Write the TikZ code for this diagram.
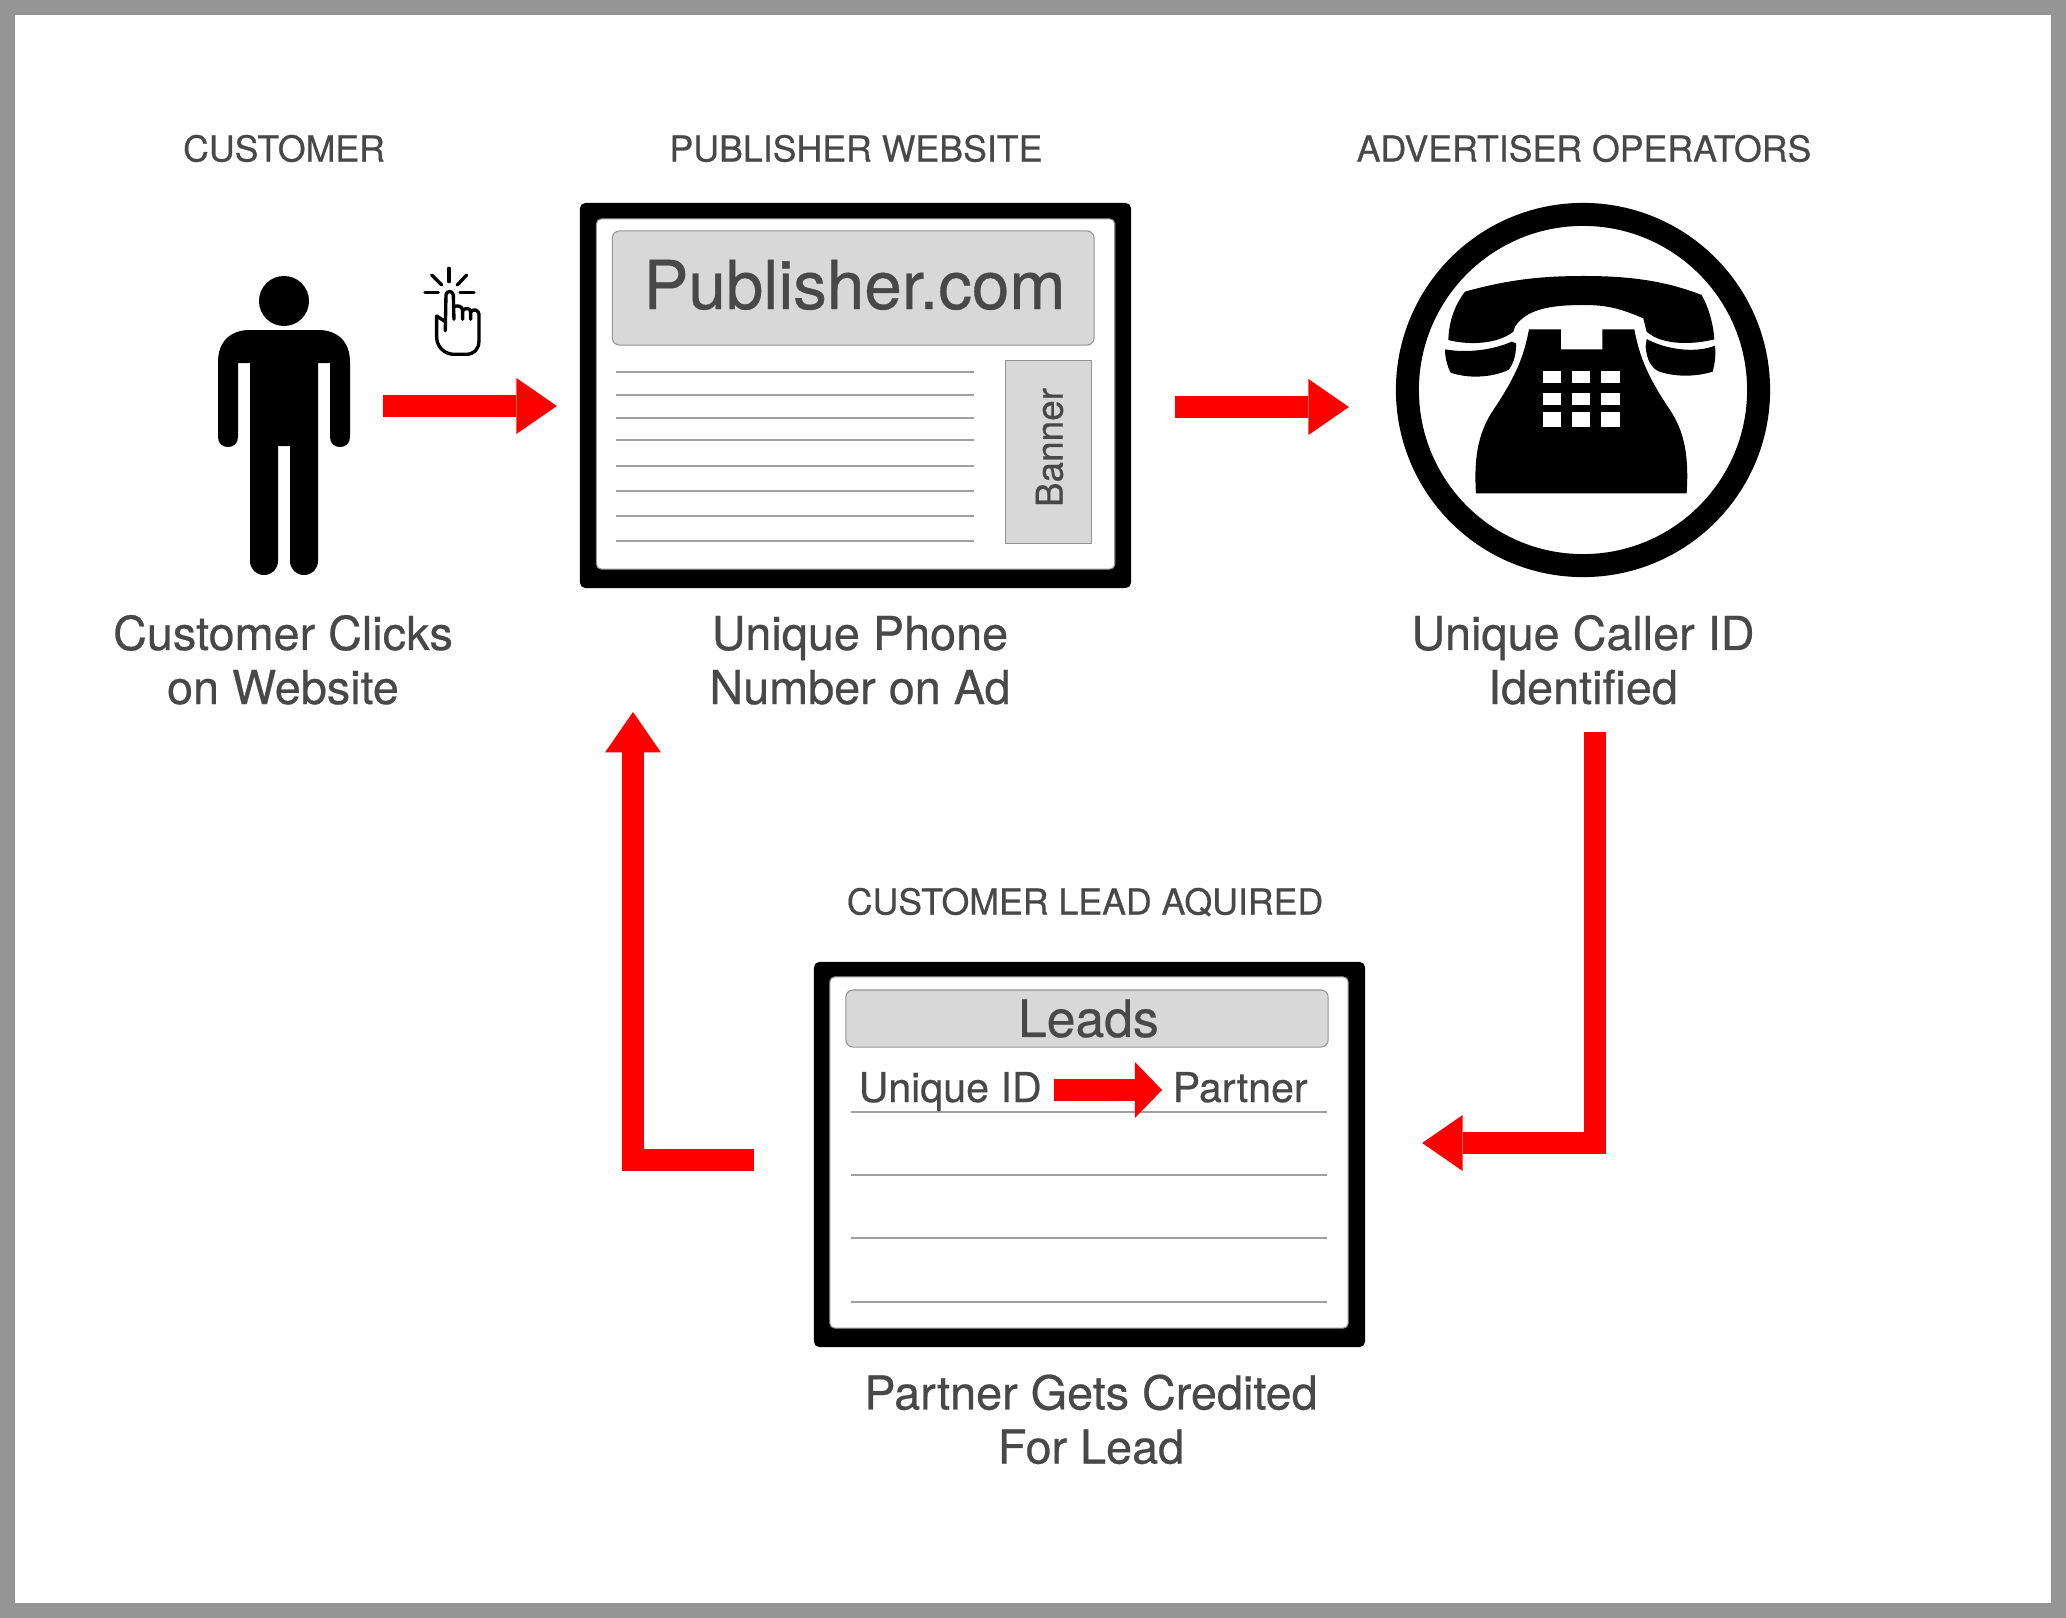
\documentclass[tikz,border=0pt]{standalone}
\usepackage{fontspec}
\setmainfont[FakeBold=0.5]{TeX Gyre Heros}
\usepackage{xcolor}
\usetikzlibrary{arrows.meta, positioning}
\definecolor{myred}{RGB}{255, 0, 0}
\definecolor{mytext}{RGB}{72, 72, 72}
\definecolor{myedge}{RGB}{149, 149, 149}
\definecolor{myrule}{RGB}{160, 160, 160}
\definecolor{mybar}{RGB}{216, 216, 216}
\tikzset{
    headlabel/.style={anchor=base, inner sep=0pt, text=mytext, font=\fontsize{10.15}{12}\selectfont},
    captionlabel/.style={anchor=base, inner sep=0pt, align=center, text=mytext, font=\fontsize{13.3}{15.36}\selectfont},
    blackframe/.style={fill=black, rounded corners=1.6pt, inner sep=0pt, outer sep=0pt},
    whiteframe/.style={fill=white, draw=myedge, line width=0.3pt, rounded corners=1.4pt, inner sep=0pt, outer sep=0pt},
    greybar/.style={fill=mybar, draw=myedge, line width=0.3pt, inner sep=0pt, outer sep=0pt, text=mytext},
    ruleline/.style={draw=myrule, line width=0.35pt},
    flowarrow/.style={draw=myred, line width=6.26pt, -{Triangle[length=11.5pt, width=15.9pt, line width=0pt]}},
    handline/.style={line width=0.95pt, line cap=round, line join=round}
}

\begin{document}
\begin{tikzpicture}[x=0.01cm, y=-0.01cm]
    % page
    \fill[myedge] (0, 0) rectangle (2066, 1618);
    \fill[white] (15, 15) rectangle (2051, 1603);

    % titles
    \node[headlabel] (custhead) at (284, 161.5) {CUSTOMER};
    \node[headlabel] (pubhead) at (856, 161.5) {PUBLISHER WEBSITE};
    \node[headlabel] (advhead) at (1584, 161.5) {ADVERTISER OPERATORS};
    \node[headlabel] (leadhead) at (1085, 914.5) {CUSTOMER LEAD AQUIRED};

    % person
    \node[minimum width=1.32cm, minimum height=2.99cm, inner sep=0pt, outer sep=0pt] (person) at (284, 425.5) {};
    \node[circle, fill=black, minimum size=0.5cm, inner sep=0pt] (head) at (284, 301) {};
    \fill[black] (250, 330) -- (318, 330) .. controls (338, 330) and (350, 342) .. (350, 362)
        -- (350, 437) .. controls (350, 443.5) and (345.5, 447) .. (340, 447)
        .. controls (334.5, 447) and (330, 443.5) .. (330, 437) -- (330, 363) -- (318, 363)
        -- (318, 561) .. controls (318, 569) and (312, 575) .. (304, 575)
        .. controls (296, 575) and (290, 569) .. (290, 561) -- (290, 446) -- (278, 446)
        -- (278, 561) .. controls (278, 569) and (272, 575) .. (264, 575)
        .. controls (256, 575) and (250, 569) .. (250, 561) -- (250, 363) -- (238, 363)
        -- (238, 437) .. controls (238, 443.5) and (233.5, 447) .. (228, 447)
        .. controls (222.5, 447) and (218, 443.5) .. (218, 437)
        -- (218, 362) .. controls (218, 342) and (230, 330) .. (250, 330) -- cycle;
    \node[captionlabel] (custcap) at (283, 704) {Customer Clicks\\on Website};

    % hand
    \begin{scope}[shift={(180, 240)}, scale=0.3333]
        \foreach \xa/\ya/\xb/\yb in {807/85/807/125, 755/105/785/135, 860/105/832/135, 735/158/775/158, 840/158/882/158}
            \draw[handline] (\xa, \ya) -- (\xb, \yb);
        \draw[handline] (796, 272) -- (798, 165) .. controls (799, 152) and (818, 150) .. (820, 165) -- (822, 238);
        \draw[handline] (822, 200) .. controls (832, 195) and (848, 198) .. (848, 212) -- (848, 238);
        \draw[handline] (848, 212) .. controls (856, 202) and (872, 204) .. (872, 216) -- (872, 238);
        \draw[handline] (796, 245) -- (770, 228) -- (770, 290) .. controls (770, 322) and (795, 343) .. (822, 343)
            -- (858, 343) .. controls (882, 343) and (897, 328) .. (897, 302) -- (897, 222)
            .. controls (895, 208) and (878, 206) .. (872, 216);
    \end{scope}

    % publisher website
    \node[blackframe, minimum width=5.51cm, minimum height=3.85cm] (pubframe) at (855.5, 395.5) {};
    \node[whiteframe, minimum width=5.18cm, minimum height=3.50cm] (pubpage) at (855.6, 394) {};
    \node[greybar, rounded corners=2pt, minimum width=4.815cm, minimum height=1.14cm] (pubbar) at (853.2, 288) {};
    \node[anchor=base, inner sep=0pt, text=mytext, font=\fontsize{19.15}{21}\selectfont] (pubname) at (854.5, 309) {Publisher.com};
    \node[greybar, minimum width=0.86cm, minimum height=1.82cm] (banner) at (1048.5, 452) {};
    \node[rotate=90, inner sep=0pt, text=mytext, font=\fontsize{10.5}{12}\selectfont] (bannertext) at (1049.5, 447.5) {Banner};
    \foreach \y in {372, 395, 418, 440, 466, 491, 516, 541}
        \draw[ruleline] (616, \y) -- (974, \y);
    \node[captionlabel] (pubcap) at (860, 704) {Unique Phone\\Number on Ad};

    % phone
    \node[circle, draw=black, line width=6.54pt, minimum size=3.51cm, inner sep=0pt, outer sep=3.27pt] (phone) at (1583, 390) {};
    \begin{scope}[shift={(1380, 190)}, scale=0.3333]
        \fill[black] (255, 305) .. controls (380, 270) and (480, 258) .. (610, 258)
            .. controls (740, 258) and (850, 270) .. (965, 315) .. controls (985, 350) and (1000, 400) .. (1003, 448)
            .. controls (950, 462) and (850, 470) .. (800, 425) -- (790, 385)
            .. controls (720, 355) and (680, 345) .. (610, 345) .. controls (520, 345) and (440, 355) .. (405, 410) -- (400, 425)
            .. controls (350, 465) and (260, 465) .. (205, 450) .. controls (207, 390) and (225, 345) .. (255, 305) -- cycle;
        \fill[black] (195, 478) .. controls (260, 490) and (340, 480) .. (395, 455) -- (408, 460)
            .. controls (410, 500) and (395, 530) .. (385, 540) .. controls (330, 565) and (260, 565) .. (212, 548)
            .. controls (200, 525) and (195, 500) .. (195, 478) -- cycle;
        \fill[black] (1005, 467) .. controls (950, 490) and (860, 480) .. (800, 447) -- (797, 470)
            .. controls (800, 510) and (815, 535) .. (838, 545) .. controls (890, 562) and (950, 560) .. (998, 545)
            .. controls (1005, 520) and (1008, 495) .. (1005, 467) -- cycle;
        \fill[black] (288, 910) .. controls (280, 790) and (300, 720) .. (340, 660)
            .. controls (400, 570) and (430, 510) .. (447, 418) -- (543, 418) -- (543, 478) -- (667, 478) -- (667, 418) -- (763, 418)
            .. controls (780, 510) and (810, 570) .. (870, 660) .. controls (910, 720) and (928, 790) .. (920, 910) -- cycle;
        \foreach \x in {488, 576, 664}
            \foreach \y/\h in {542/36, 608/38, 665/47}
                \fill[white] (\x, \y) rectangle (\x + 55, \y + \h);
    \end{scope}
    \node[captionlabel] (phonecap) at (1583, 704) {Unique Caller ID\\Identified};

    % leads
    \node[blackframe, minimum width=5.51cm, minimum height=3.85cm] (leadframe) at (1089.5, 1154.5) {};
    \node[whiteframe, minimum width=5.18cm, minimum height=3.51cm] (leadpage) at (1089, 1152.5) {};
    \node[greybar, rounded corners=2pt, minimum width=4.82cm, minimum height=0.57cm, font=\fontsize{14.7}{16}\selectfont] (leadbar) at (1087, 1018.5) {\kern 0.8pt Leads};
    \foreach \y in {1112, 1175, 1238, 1302}
        \draw[ruleline] (851, \y) -- (1327, \y);
    \node[anchor=base west, inner sep=0pt, text=mytext, font=\fontsize{11.7}{13}\selectfont] (uniqueid) at (858, 1102) {Unique ID};
    \node[anchor=base west, inner sep=0pt, text=mytext, font=\fontsize{11.7}{13}\selectfont] (partner) at (1172, 1102) {Partner};
    \node[captionlabel] (leadcap) at (1091, 1463.5) {Partner Gets Credited\\For Lead};

    % arrows
    \coordinate (callerout) at (1595, 732);
    \coordinate (pubin) at (633, 712);
    \draw[flowarrow] ([shift={(33, -19.5)}]person.east) -- ([shift={(-23, 10.5)}]pubframe.west);
    \draw[flowarrow] ([shift={(44, 11.5)}]pubframe.east) -- ([shift={(-47, 17)}]phone.west);
    \draw[flowarrow] (callerout) |- ([shift={(57, -11.5)}]leadframe.east);
    \draw[flowarrow] ([shift={(-60, 5.5)}]leadframe.west) -| (pubin);
    \draw[flowarrow, -{Triangle[length=7.7pt, width=15.9pt, line width=0pt]}] ([shift={(12, -12)}]uniqueid.base east) -- ([shift={(-10, -12)}]partner.base west);
\end{tikzpicture}
\end{document}
